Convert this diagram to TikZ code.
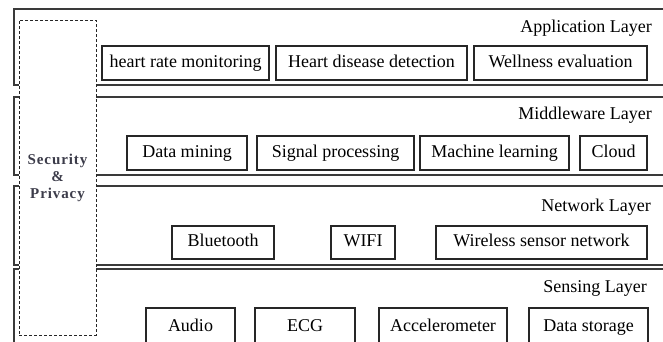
\documentclass[tikz,border=0pt]{standalone}
\usepackage{fontspec}
\setmainfont{Liberation Serif}
\newfontfamily\secfont[LetterSpace=6]{Liberation Serif}
\definecolor{linegray}{HTML}{3A3A3A}
\definecolor{secgray}{HTML}{3C3C4A}
\tikzset{
  layer/.style={draw=linegray, line width=1.4pt},
  unit/.style={draw=black!85, line width=1.2pt, inner sep=0pt, minimum height=34pt, text height=12.5pt, text depth=4pt, font=\fontsize{18}{20}\selectfont},
  layername/.style={anchor=east, inner sep=0pt, font=\fontsize{18}{20}\selectfont},
  secbox/.style={draw=black!85, line width=1pt, dash pattern=on 3pt off 2pt, fill=white, inner sep=0pt, align=center, text=secgray, font=\secfont\bfseries\fontsize{15}{17}\selectfont},
}
\begin{document}
\begin{tikzpicture}[x=1pt, y=-1pt]
\useasboundingbox (0,0) rectangle (663,341);
\clip (0,0) rectangle (663,341);
% layers
\draw[layer] (14,9) rectangle (700,85);
\draw[layer] (14,97) rectangle (700,175);
\draw[layer] (14,186) rectangle (700,265);
\draw[layer] (14,269) rectangle (700,380);
% security & privacy
\node[secbox, minimum width=77pt, minimum height=315pt] (sec) at (57.5,177.5) {Security\\\&\\Privacy};
% application layer
\node[layername] (app) at (652,28) {Application Layer};
\node[unit, minimum width=167pt] (A_0) at (185.5,63) {heart rate monitoring};
\node[unit, minimum width=191pt] (A_1) at (371.5,63) {Heart disease detection};
\node[unit, minimum width=173pt] (A_2) at (560.5,63) {Wellness evaluation};
% middleware layer
\node[layername] (mid) at (652,115) {Middleware Layer};
\node[unit, minimum width=120pt] (M_0) at (187,153) {Data mining};
\node[unit, minimum width=157pt] (M_1) at (335.5,153) {Signal processing};
\node[unit, minimum width=149pt] (M_2) at (494.5,153) {Machine learning};
\node[unit, minimum width=67pt] (M_3) at (613.5,153) {Cloud};
% network layer
\node[layername] (net) at (651,207) {Network Layer};
\node[unit, minimum width=102pt, minimum height=33pt] (N_0) at (223,242.5) {Bluetooth};
\node[unit, minimum width=64pt, minimum height=33pt] (N_1) at (363,242.5) {WIFI};
\node[unit, minimum width=211pt, minimum height=33pt] (N_2) at (541.5,242.5) {Wireless sensor network};
% sensing layer
\node[layername] (sen) at (647,288) {Sensing Layer};
\node[unit, minimum width=89pt, minimum height=38pt] (S_0) at (190.5,327) {Audio};
\node[unit, minimum width=100pt, minimum height=38pt] (S_1) at (305,327) {ECG};
\node[unit, minimum width=128pt, minimum height=38pt] (S_2) at (443,327) {Accelerometer};
\node[unit, minimum width=119pt, minimum height=38pt] (S_3) at (588.5,327) {Data storage};
\end{tikzpicture}
\end{document}
